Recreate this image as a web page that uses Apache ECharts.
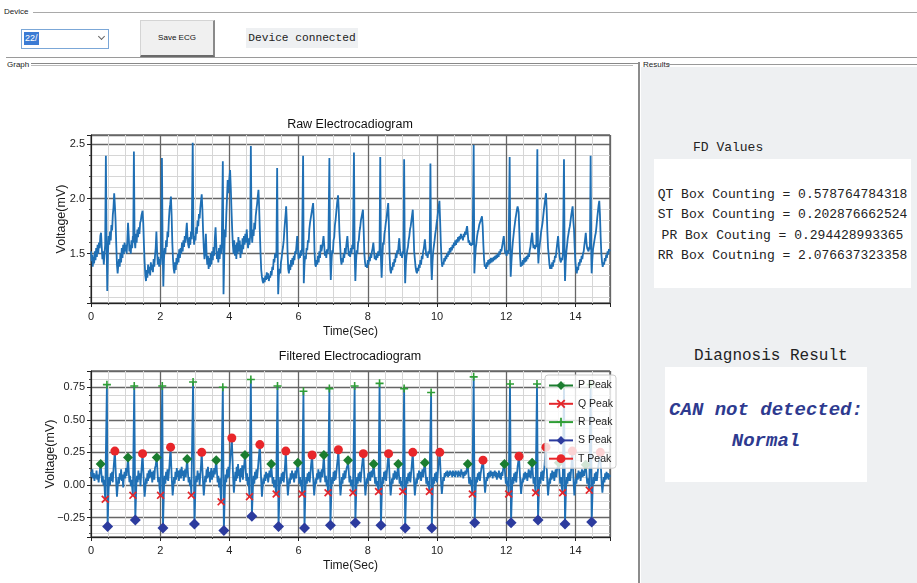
<!DOCTYPE html>
<html><head><meta charset="utf-8">
<script src="https://cdn.jsdelivr.net/npm/echarts@6/dist/echarts.min.js"></script>
<style>
html,body{margin:0;padding:0;width:917px;height:583px;overflow:hidden;background:#fff;font-family:'Liberation Sans',Arial,sans-serif;}
.abs{position:absolute;}
.lbl{position:absolute;font-size:8px;color:#222;font-family:'Liberation Sans Narrow','Liberation Sans',sans-serif;line-height:10px;}
.hl{position:absolute;height:1px;background:#a9a9a9;}
.mono{font-family:'Liberation Mono','DejaVu Sans Mono',monospace;color:#222;}
#results{position:absolute;left:641px;top:67px;width:276px;height:516px;background:#eef0f2;}
#chart{position:absolute;left:0;top:0;width:700px;height:583px;z-index:5;}
</style></head><body>
<div class="lbl" style="left:4px;top:7px">Device</div>
<div class="hl" style="left:33px;top:12px;width:884px"></div>
<div class="abs" style="left:21px;top:29px;width:86px;height:18px;border:1px solid #7ba7d7;background:#fff"></div>
<div class="abs" style="left:24px;top:32px;height:13px;background:#3b7bd4;color:#fff;font-size:9px;line-height:13px;padding:0 1px">22/</div>
<div class="abs" style="left:99px;top:34px;width:4px;height:4px;border-right:1px solid #666;border-bottom:1px solid #666;transform:rotate(45deg)"></div>
<div class="abs" style="left:140px;top:20px;width:72px;height:34px;background:#f0f0f0;border:1px solid #d4d4d4;border-right:2px solid #8a8a8a;border-bottom:2px solid #6a6a6a;font-size:8px;text-align:center;line-height:34px;font-family:'Liberation Sans Narrow','Liberation Sans',sans-serif;color:#111">Save ECG</div>
<div class="abs mono" style="left:246px;top:28px;width:112px;height:20px;background:#eef0f2;font-size:11.2px;line-height:20px;text-align:center">Device connected</div>
<div class="hl" style="left:6px;top:57px;width:911px;background:#9a9a9a"></div>
<div class="lbl" style="left:7px;top:60px">Graph</div>
<div class="abs" style="left:31px;top:63px;width:602px;height:1px;border-top:1px solid #888;border-bottom:1px solid #bbb"></div>

<div id="results"></div>
<div class="abs" style="left:638px;top:62px;width:2px;height:521px;background:#8c8c8c"></div>
<div class="abs" style="left:630px;top:63px;width:10px;height:1px;background:#8c8c8c"></div>
<div class="lbl" style="left:643px;top:60px">Results</div>
<div class="hl" style="left:668px;top:64px;width:249px;background:#999"></div>
<div class="abs mono" style="left:693px;top:139px;font-size:13px;line-height:18px">FD Values</div>
<div id="fdbox" class="abs mono" style="left:654px;top:159px;width:257px;height:129px;background:#fff;font-size:13px;line-height:20.3px;text-align:center;padding-top:26px;box-sizing:border-box;white-space:pre"></div>
<div class="abs mono" style="left:694px;top:346px;font-size:16px;line-height:20px">Diagnosis Result</div>
<div id="diag" class="abs mono" style="left:665px;top:367px;width:202px;height:115px;background:#fff;font-size:19px;line-height:31px;text-align:center;padding-top:28px;box-sizing:border-box;font-weight:bold;font-style:italic;color:#2e3a8f;white-space:pre"></div>

<div id="chart"></div>
<script>
const rawTitle = 'Raw Electrocadiogram';
const filteredTitle = 'Filtered Electrocadiogram';
const xName = 'Time(Sec)';
const yName = 'Voltage(mV)';
const legendNames = ['P Peak','Q Peak','R Peak','S Peak','T Peak'];
const fdLabels = ['QT Box Counting','ST Box Counting','PR Box Couting','RR Box Coutning'];
const fdValues = ['0.578764784318','0.202876662524','0.294428993365','2.076637323358'];
const diagnosisLines = ['CAN not detected:','Normal'];

const rawSignal = [
[0,1.52],[0.02,1.43],[0.04,1.49],[0.05,1.38],[0.07,1.47],[0.09,1.41],[0.11,1.52],[0.13,1.44],[0.15,1.55],[0.17,1.47],[0.19,1.58],[0.21,1.50],[0.23,1.60],[0.25,1.55],[0.27,1.66],[0.29,1.69],[0.31,1.56],[0.33,1.45],[0.35,1.52],[0.37,1.40],[0.39,1.50],[0.41,1.58],
[0.43,2.39],[0.45,1.62],[0.47,1.16],[0.49,1.50],[0.51,1.66],[0.53,1.58],[0.55,1.70],[0.57,1.62],[0.59,1.76],[0.61,1.71],[0.63,1.85],[0.65,1.92],[0.67,2.05],[0.69,1.94],[0.71,1.80],[0.73,1.58],[0.75,1.40],[0.77,1.32],[0.79,1.40],[0.81,1.45],[0.83,1.38],[0.85,1.50],[0.87,1.42],[0.89,1.55],[0.91,1.46],[0.93,1.58],[0.95,1.50],[0.97,1.60],[0.99,1.52],[1.01,1.58],[1.03,1.50],[1.05,1.62],[1.07,1.78],[1.09,1.66],[1.11,1.52],[1.13,1.58],[1.15,1.50],[1.17,1.62],[1.19,1.55],[1.21,1.66],[1.22,1.60],
[1.24,2.43],[1.26,1.62],[1.28,1.55],[1.30,1.68],[1.32,1.60],[1.34,1.72],[1.36,1.65],[1.38,1.74],[1.40,1.68],[1.42,1.78],[1.44,1.80],[1.46,1.85],[1.49,1.89],[1.51,1.78],[1.53,1.58],[1.55,1.42],[1.57,1.30],[1.59,1.25],[1.61,1.35],[1.63,1.28],[1.65,1.40],[1.67,1.32],[1.69,1.38],[1.71,1.30],[1.73,1.42],[1.75,1.35],[1.77,1.40],[1.79,1.33],[1.81,1.45],[1.83,1.38],[1.85,1.48],[1.87,1.55],[1.89,1.70],[1.91,1.52],[1.93,1.40],[1.95,1.47],[1.97,1.38],[1.99,1.45],[2.01,1.40],[2.03,1.50],
[2.05,2.37],[2.07,1.55],[2.09,1.20],[2.11,1.45],[2.13,1.55],[2.15,1.50],[2.17,1.62],[2.19,1.56],[2.21,1.70],[2.23,1.65],[2.25,1.80],[2.27,1.90],[2.29,1.95],[2.31,2.02],[2.33,1.85],[2.35,1.60],[2.37,1.45],[2.39,1.36],[2.41,1.32],[2.43,1.42],[2.45,1.35],[2.47,1.46],[2.49,1.40],[2.51,1.50],[2.53,1.42],[2.55,1.54],[2.57,1.46],[2.59,1.55],[2.61,1.50],[2.63,1.60],[2.65,1.52],[2.67,1.62],[2.69,1.56],[2.71,1.66],[2.73,1.60],[2.75,1.70],[2.77,1.78],[2.79,1.64],[2.81,1.58],[2.83,1.55],[2.85,1.65],[2.87,1.58],[2.89,1.70],[2.91,1.63],
[2.94,2.51],[2.96,1.70],[2.98,1.58],[3.00,1.66],[3.02,1.62],[3.04,1.74],[3.06,1.68],[3.08,1.80],[3.10,1.75],[3.12,1.86],[3.14,1.82],[3.16,1.92],[3.18,1.98],[3.20,2.04],[3.22,1.90],[3.24,1.70],[3.26,1.55],[3.28,1.45],[3.30,1.52],[3.32,1.68],[3.34,1.50],[3.36,1.40],[3.38,1.48],[3.40,1.36],[3.42,1.46],[3.44,1.38],[3.46,1.50],[3.48,1.40],[3.50,1.52],[3.52,1.44],[3.54,1.56],[3.56,1.48],[3.58,1.64],[3.60,1.74],[3.62,1.58],[3.64,1.45],[3.66,1.52],[3.68,1.42],[3.70,1.55],[3.72,1.45],[3.74,1.58],[3.76,1.50],[3.78,1.60],
[3.81,2.34],[3.83,1.13],[3.85,1.45],[3.87,1.72],[3.89,1.65],[3.91,1.85],[3.93,2.00],[3.95,2.17],[3.97,2.05],[3.99,2.15],[4.02,2.26],[4.04,2.10],[4.06,1.90],[4.08,1.72],[4.10,1.58],[4.12,1.50],[4.14,1.62],[4.16,1.48],[4.18,1.58],[4.20,1.45],[4.22,1.60],[4.24,1.50],[4.26,1.65],[4.28,1.52],[4.30,1.62],[4.32,1.46],[4.34,1.58],[4.36,1.50],[4.38,1.64],[4.40,1.54],[4.42,1.66],[4.44,1.58],[4.46,1.68],[4.48,1.60],[4.50,1.72],[4.52,1.62],[4.54,1.55],[4.56,1.64],[4.58,1.58],[4.60,1.66],
[4.62,2.48],[4.64,1.70],[4.66,1.60],[4.68,1.72],[4.70,1.66],[4.72,1.78],[4.74,1.72],[4.76,1.84],[4.78,1.90],[4.80,1.95],[4.82,2.02],[4.84,2.08],[4.86,1.92],[4.88,1.70],[4.90,1.50],[4.92,1.35],[4.94,1.29],[4.96,1.25],[4.98,1.23],[5.00,1.28],[5.02,1.24],[5.04,1.30],[5.06,1.26],[5.08,1.33],[5.10,1.27],[5.12,1.32],[5.14,1.25],[5.16,1.30],[5.18,1.28],[5.20,1.34],[5.22,1.30],[5.24,1.38],[5.26,1.35],[5.28,1.45],[5.30,1.42],[5.32,1.50],[5.34,1.46],[5.36,1.52],
[5.38,2.28],[5.40,1.40],[5.41,1.13],[5.43,1.30],[5.45,1.36],[5.47,1.32],[5.49,1.42],[5.51,1.46],[5.53,1.52],[5.55,1.56],[5.57,1.62],[5.59,1.72],[5.61,1.80],[5.63,1.88],[5.64,1.93],[5.66,1.78],[5.68,1.52],[5.70,1.36],[5.72,1.32],[5.74,1.40],[5.76,1.35],[5.78,1.44],[5.80,1.38],[5.82,1.46],[5.84,1.40],[5.86,1.48],[5.88,1.44],[5.90,1.52],[5.92,1.50],[5.94,1.58],[5.96,1.66],[5.98,1.55],[6.00,1.45],[6.02,1.50],[6.04,1.46],[6.06,1.53],[6.08,1.48],[6.10,1.55],
[6.13,2.39],[6.15,1.23],[6.17,1.40],[6.19,1.48],[6.21,1.45],[6.23,1.55],[6.25,1.53],[6.27,1.62],[6.29,1.60],[6.31,1.72],[6.33,1.78],[6.35,1.82],[6.37,1.86],[6.39,1.90],[6.42,1.96],[6.44,1.80],[6.46,1.52],[6.48,1.40],[6.50,1.38],[6.52,1.44],[6.54,1.40],[6.56,1.48],[6.58,1.42],[6.60,1.52],[6.62,1.46],[6.64,1.58],[6.66,1.52],[6.68,1.56],[6.70,1.60],[6.72,1.66],[6.74,1.58],[6.76,1.48],[6.78,1.52],[6.80,1.46],[6.82,1.54],[6.84,1.50],[6.86,1.56],
[6.89,2.37],[6.91,1.50],[6.93,1.26],[6.95,1.42],[6.97,1.53],[6.99,1.50],[7.01,1.62],[7.03,1.65],[7.05,1.76],[7.07,1.81],[7.09,1.88],[7.11,1.95],[7.14,2.03],[7.16,1.90],[7.18,1.70],[7.20,1.58],[7.22,1.45],[7.24,1.40],[7.26,1.46],[7.28,1.42],[7.30,1.50],[7.32,1.46],[7.34,1.55],[7.36,1.50],[7.38,1.58],[7.41,1.66],[7.43,1.56],[7.45,1.48],[7.47,1.52],[7.49,1.47],[7.51,1.55],[7.53,1.50],[7.55,1.58],[7.57,1.54],
[7.60,2.42],[7.62,1.50],[7.64,1.25],[7.66,1.42],[7.68,1.53],[7.70,1.50],[7.72,1.60],[7.74,1.62],[7.76,1.70],[7.78,1.74],[7.80,1.80],[7.83,1.85],[7.86,1.90],[7.88,1.72],[7.90,1.50],[7.92,1.42],[7.94,1.38],[7.96,1.40],[7.98,1.37],[8.00,1.44],[8.02,1.40],[8.04,1.47],[8.06,1.43],[8.08,1.50],[8.10,1.46],[8.12,1.52],[8.14,1.55],[8.16,1.60],[8.18,1.52],[8.20,1.45],[8.22,1.48],[8.24,1.44],[8.26,1.50],[8.28,1.46],[8.30,1.52],[8.32,1.48],[8.34,1.54],
[8.36,2.38],[8.38,1.45],[8.40,1.28],[8.42,1.45],[8.44,1.60],[8.46,1.58],[8.48,1.68],[8.50,1.72],[8.52,1.78],[8.54,1.82],[8.56,1.88],[8.59,1.96],[8.61,1.75],[8.63,1.48],[8.65,1.35],[8.67,1.32],[8.69,1.38],[8.71,1.35],[8.73,1.42],[8.75,1.38],[8.77,1.45],[8.79,1.42],[8.81,1.50],[8.83,1.46],[8.85,1.53],[8.87,1.50],[8.89,1.58],[8.91,1.64],[8.93,1.54],[8.95,1.48],[8.97,1.50],[8.99,1.46],[9.01,1.52],[9.03,1.50],
[9.05,2.36],[9.07,1.40],[9.08,1.23],[9.10,1.40],[9.12,1.48],[9.14,1.53],[9.16,1.56],[9.18,1.62],[9.20,1.66],[9.22,1.72],[9.24,1.75],[9.26,1.80],[9.28,1.85],[9.30,1.90],[9.32,1.72],[9.34,1.52],[9.36,1.45],[9.38,1.38],[9.40,1.34],[9.42,1.32],[9.44,1.37],[9.46,1.34],[9.48,1.40],[9.50,1.37],[9.52,1.44],[9.54,1.40],[9.56,1.48],[9.58,1.45],[9.60,1.52],[9.62,1.55],[9.65,1.63],[9.67,1.55],[9.69,1.48],[9.71,1.50],[9.73,1.46],[9.75,1.52],[9.77,1.50],[9.79,1.55],
[9.81,2.32],[9.83,1.42],[9.85,1.26],[9.87,1.42],[9.89,1.52],[9.91,1.57],[9.93,1.62],[9.95,1.68],[9.97,1.72],[9.99,1.78],[10.01,1.82],[10.03,1.88],[10.05,1.93],[10.07,1.98],[10.09,1.80],[10.11,1.60],[10.13,1.45],[10.15,1.38],[10.17,1.42],[10.19,1.40],[10.21,1.46],[10.23,1.43],[10.25,1.48],[10.27,1.45],[10.29,1.50],[10.31,1.47],[10.33,1.52],[10.35,1.49],[10.37,1.55],[10.39,1.51],[10.41,1.56],[10.43,1.53],[10.45,1.58],[10.47,1.55],[10.49,1.60],[10.51,1.57],[10.53,1.62],[10.55,1.58],[10.57,1.63],[10.59,1.60],[10.61,1.65],[10.63,1.61],[10.65,1.66],[10.67,1.63],[10.69,1.68],[10.71,1.64],[10.73,1.66],[10.75,1.62],[10.77,1.68],[10.79,1.65],[10.81,1.70],[10.83,1.67],[10.85,1.72],[10.87,1.75],[10.89,1.68],[10.91,1.60],[10.93,1.62],[10.95,1.58],[10.97,1.60],[10.99,1.57],[11.01,1.60],[11.03,1.58],
[11.06,2.49],[11.08,1.32],[11.10,1.45],[11.12,1.55],[11.14,1.60],[11.16,1.66],[11.18,1.70],[11.20,1.72],[11.22,1.76],[11.24,1.78],[11.26,1.80],[11.28,1.82],[11.30,1.84],[11.32,1.75],[11.34,1.58],[11.36,1.45],[11.38,1.38],[11.40,1.40],[11.42,1.36],[11.44,1.42],[11.46,1.38],[11.48,1.44],[11.50,1.40],[11.52,1.45],[11.54,1.41],[11.56,1.46],[11.58,1.42],[11.60,1.46],[11.62,1.43],[11.64,1.47],[11.66,1.44],[11.68,1.48],[11.70,1.45],[11.72,1.49],[11.74,1.46],[11.76,1.50],[11.78,1.47],[11.80,1.52],[11.82,1.49],[11.84,1.54],[11.86,1.52],[11.88,1.56],[11.90,1.60],[11.93,1.66],[11.95,1.58],[11.97,1.50],[11.99,1.52],[12.01,1.48],[12.03,1.53],[12.05,1.50],[12.07,1.54],
[12.10,2.38],[12.12,1.45],[12.13,1.29],[12.15,1.42],[12.17,1.52],[12.19,1.60],[12.21,1.66],[12.23,1.72],[12.25,1.77],[12.27,1.82],[12.29,1.86],[12.31,1.90],[12.33,1.93],[12.36,1.88],[12.38,1.70],[12.40,1.48],[12.42,1.38],[12.44,1.42],[12.46,1.39],[12.48,1.44],[12.50,1.40],[12.52,1.46],[12.54,1.42],[12.56,1.47],[12.58,1.43],[12.60,1.48],[12.62,1.45],[12.64,1.50],[12.66,1.47],[12.68,1.53],[12.70,1.56],[12.72,1.62],[12.75,1.69],[12.77,1.60],[12.79,1.55],[12.81,1.58],[12.83,1.54],[12.85,1.58],[12.87,1.56],
[12.90,2.45],[12.92,1.50],[12.93,1.41],[12.95,1.52],[12.97,1.58],[12.99,1.64],[13.01,1.70],[13.03,1.74],[13.05,1.78],[13.07,1.84],[13.09,1.90],[13.11,1.95],[13.13,2.00],[13.15,2.05],[13.17,1.90],[13.19,1.70],[13.21,1.55],[13.23,1.48],[13.25,1.40],[13.27,1.36],[13.29,1.40],[13.31,1.36],[13.33,1.42],[13.35,1.38],[13.37,1.44],[13.39,1.42],[13.41,1.48],[13.43,1.46],[13.45,1.52],[13.47,1.58],[13.50,1.66],[13.52,1.56],[13.54,1.48],[13.56,1.44],[13.58,1.42],[13.60,1.46],[13.62,1.44],[13.64,1.50],
[13.67,2.36],[13.69,1.40],[13.70,1.25],[13.72,1.42],[13.74,1.52],[13.76,1.58],[13.78,1.64],[13.80,1.68],[13.82,1.72],[13.84,1.75],[13.86,1.80],[13.88,1.85],[13.90,1.89],[13.92,1.93],[13.94,1.80],[13.96,1.72],[13.98,1.55],[14.00,1.42],[14.02,1.35],[14.04,1.32],[14.06,1.38],[14.08,1.35],[14.10,1.42],[14.12,1.39],[14.14,1.45],[14.16,1.42],[14.18,1.48],[14.20,1.45],[14.22,1.50],[14.24,1.52],[14.26,1.58],[14.28,1.63],[14.30,1.69],[14.32,1.60],[14.34,1.55],[14.36,1.55],[14.38,1.52],[14.40,1.56],[14.42,1.54],
[14.44,2.39],[14.46,1.45],[14.47,1.32],[14.49,1.45],[14.51,1.54],[14.53,1.58],[14.55,1.62],[14.57,1.66],[14.59,1.69],[14.61,1.75],[14.63,1.82],[14.65,1.88],[14.67,1.94],[14.69,1.98],[14.71,1.85],[14.73,1.65],[14.75,1.50],[14.77,1.42],[14.79,1.38],[14.81,1.42],[14.83,1.40],[14.85,1.46],[14.87,1.43],[14.89,1.49],[14.91,1.46],[14.93,1.52],[14.95,1.49],[14.97,1.54],[15.00,1.52]
];

const filteredSignal = [
[0.00,0.10],[0.02,0.06],[0.04,0.12],[0.06,0.05],[0.08,0.09],[0.10,0.03],[0.12,0.08],[0.14,0.05],[0.16,0.11],[0.18,0.04],[0.20,0.08],[0.22,0.02],[0.24,0.07],[0.26,0.12],[0.28,0.16],[0.30,0.09],[0.32,0.02],[0.34,0.07],[0.36,0.00],[0.38,0.04],[0.41,-0.11],[0.46,0.77],[0.48,-0.32],[0.51,-0.03],[0.53,0.06],[0.55,0.00],[0.57,0.09],[0.59,0.03],[0.61,0.10],[0.63,0.02],[0.65,0.12],[0.67,0.19],[0.69,0.26],[0.71,0.13],[0.73,0.01],[0.75,-0.09],[0.77,-0.02],[0.79,0.06],[0.81,0.01],[0.83,0.09],[0.85,0.04],[0.87,0.12],[0.89,0.03],[0.91,0.08],[0.93,-0.02],[0.95,0.06],[0.97,0.10],[0.99,0.05],[1.01,0.13],[1.03,0.07],[1.05,0.14],[1.07,0.21],[1.09,0.11],[1.11,0.02],[1.13,0.07],[1.15,-0.01],[1.17,0.04],[1.21,-0.08],[1.25,0.76],[1.28,-0.27],[1.31,0.00],[1.33,0.07],[1.35,0.02],[1.37,0.11],[1.39,0.04],[1.41,0.09],[1.43,-0.01],[1.45,0.08],[1.47,0.16],[1.49,0.24],[1.51,0.12],[1.53,0.00],[1.55,-0.09],[1.57,-0.03],[1.59,0.05],[1.61,0.01],[1.63,0.09],[1.65,0.03],[1.67,0.11],[1.69,0.05],[1.71,0.12],[1.73,0.06],[1.75,0.10],[1.77,0.02],[1.79,0.07],[1.81,0.11],[1.83,0.04],[1.85,0.13],[1.87,0.15],[1.90,0.21],[1.92,0.11],[1.94,0.02],[1.96,0.06],[1.98,-0.02],[2.01,-0.08],[2.06,0.76],[2.08,-0.33],[2.11,-0.02],[2.13,0.07],[2.15,0.01],[2.17,0.10],[2.19,0.04],[2.21,0.12],[2.23,0.03],[2.25,0.09],[2.27,0.16],[2.30,0.29],[2.32,0.14],[2.34,0.02],[2.36,-0.08],[2.38,-0.02],[2.40,0.06],[2.42,0.01],[2.44,0.10],[2.46,0.04],[2.48,0.13],[2.50,0.06],[2.52,0.11],[2.54,0.03],[2.56,0.08],[2.58,0.12],[2.60,0.05],[2.62,0.14],[2.64,0.07],[2.66,0.11],[2.68,0.03],[2.70,0.08],[2.72,0.12],[2.74,0.06],[2.76,0.14],[2.78,0.20],[2.80,0.10],[2.82,0.02],[2.84,0.06],[2.86,-0.01],[2.88,0.04],[2.90,-0.08],[2.95,0.79],[2.99,-0.30],[3.02,-0.01],[3.04,0.07],[3.06,0.02],[3.08,0.11],[3.10,0.04],[3.12,0.09],[3.14,0.00],[3.16,0.08],[3.18,0.15],[3.20,0.25],[3.22,0.12],[3.24,0.01],[3.26,-0.08],[3.28,-0.01],[3.30,0.07],[3.32,0.02],[3.34,0.12],[3.36,0.05],[3.38,0.14],[3.40,0.06],[3.42,0.10],[3.44,0.02],[3.46,0.09],[3.48,0.13],[3.50,0.04],[3.52,0.11],[3.54,0.06],[3.56,0.13],[3.58,0.08],[3.60,0.14],[3.62,0.19],[3.64,0.10],[3.66,0.02],[3.68,0.07],[3.70,-0.02],[3.72,0.05],[3.76,-0.13],[3.81,0.75],[3.84,-0.35],[3.87,-0.03],[3.89,0.08],[3.91,0.02],[3.93,0.12],[3.95,0.05],[3.97,0.14],[3.99,0.06],[4.01,0.15],[4.03,0.22],[4.05,0.28],[4.07,0.36],[4.09,0.20],[4.11,0.04],[4.13,-0.06],[4.15,0.02],[4.17,0.10],[4.19,0.03],[4.21,0.14],[4.23,0.05],[4.25,0.16],[4.27,0.07],[4.29,0.12],[4.31,0.02],[4.33,0.13],[4.35,0.06],[4.37,0.15],[4.39,0.04],[4.41,0.12],[4.43,0.16],[4.45,0.23],[4.47,0.12],[4.49,0.03],[4.51,0.09],[4.53,0.00],[4.55,0.06],[4.58,-0.09],[4.62,0.81],[4.65,-0.24],[4.68,-0.02],[4.70,0.07],[4.72,0.01],[4.74,0.10],[4.76,0.04],[4.78,0.12],[4.80,0.05],[4.82,0.11],[4.84,0.18],[4.86,0.24],[4.88,0.31],[4.90,0.16],[4.92,0.02],[4.94,-0.09],[4.96,-0.02],[4.98,0.05],[5.00,0.01],[5.02,0.08],[5.04,0.03],[5.06,0.10],[5.08,0.05],[5.10,0.09],[5.12,0.02],[5.14,0.07],[5.16,0.11],[5.18,0.06],[5.21,0.16],[5.23,0.08],[5.25,0.01],[5.27,0.06],[5.29,-0.02],[5.31,0.04],[5.35,-0.07],[5.39,0.76],[5.42,-0.32],[5.45,-0.02],[5.47,0.06],[5.49,0.01],[5.51,0.09],[5.53,0.03],[5.55,0.10],[5.57,0.02],[5.59,0.08],[5.61,0.16],[5.63,0.26],[5.65,0.12],[5.67,0.01],[5.69,-0.08],[5.71,-0.02],[5.73,0.05],[5.75,0.01],[5.77,0.09],[5.79,0.04],[5.81,0.11],[5.83,0.05],[5.85,0.09],[5.87,0.02],[5.89,0.07],[5.91,0.11],[5.93,0.05],[5.95,0.12],[5.98,0.17],[6.00,0.09],[6.02,0.01],[6.04,0.06],[6.06,-0.01],[6.08,0.04],[6.10,-0.07],[6.14,0.72],[6.17,-0.33],[6.20,-0.02],[6.22,0.06],[6.24,0.01],[6.26,0.09],[6.28,0.03],[6.30,0.10],[6.32,0.02],[6.34,0.08],[6.36,0.15],[6.39,0.23],[6.41,0.11],[6.43,0.01],[6.45,-0.08],[6.47,-0.02],[6.49,0.05],[6.51,0.01],[6.53,0.09],[6.55,0.04],[6.57,0.12],[6.59,0.05],[6.61,0.10],[6.63,0.02],[6.65,0.08],[6.67,0.12],[6.69,0.06],[6.71,0.15],[6.73,0.23],[6.75,0.11],[6.77,0.02],[6.79,0.07],[6.81,-0.01],[6.83,0.04],[6.85,-0.06],[6.89,0.74],[6.92,-0.31],[6.95,-0.02],[6.97,0.06],[6.99,0.01],[7.01,0.10],[7.03,0.03],[7.05,0.11],[7.07,0.04],[7.09,0.09],[7.11,0.15],[7.13,0.20],[7.15,0.27],[7.17,0.13],[7.19,0.01],[7.21,-0.08],[7.23,-0.02],[7.25,0.06],[7.27,0.01],[7.29,0.09],[7.31,0.04],[7.33,0.11],[7.35,0.05],[7.37,0.10],[7.39,0.13],[7.41,0.15],[7.43,0.19],[7.45,0.10],[7.47,0.02],[7.49,0.07],[7.51,-0.01],[7.53,0.04],[7.57,-0.06],[7.62,0.76],[7.64,-0.29],[7.67,-0.02],[7.69,0.06],[7.71,0.01],[7.73,0.09],[7.75,0.03],[7.77,0.10],[7.79,0.02],[7.81,0.08],[7.83,0.14],[7.85,0.19],[7.87,0.24],[7.89,0.12],[7.91,0.01],[7.93,-0.08],[7.95,-0.02],[7.97,0.05],[7.99,0.01],[8.01,0.09],[8.03,0.04],[8.05,0.10],[8.07,0.03],[8.09,0.08],[8.11,0.11],[8.13,0.06],[8.15,0.12],[8.17,0.16],[8.19,0.09],[8.21,0.01],[8.23,0.06],[8.25,-0.01],[8.27,0.03],[8.31,-0.05],[8.34,0.78],[8.38,-0.31],[8.41,-0.02],[8.43,0.06],[8.45,0.01],[8.47,0.10],[8.49,0.04],[8.51,0.11],[8.53,0.03],[8.55,0.09],[8.57,0.16],[8.60,0.24],[8.62,0.12],[8.64,0.01],[8.66,-0.08],[8.68,-0.02],[8.70,0.05],[8.72,0.01],[8.74,0.09],[8.76,0.04],[8.78,0.11],[8.80,0.05],[8.82,0.10],[8.84,0.04],[8.86,0.11],[8.88,0.16],[8.90,0.08],[8.92,0.01],[8.94,0.06],[8.96,-0.01],[8.98,0.03],[9.01,-0.05],[9.05,0.74],[9.08,-0.33],[9.11,-0.02],[9.13,0.06],[9.15,0.01],[9.17,0.09],[9.19,0.03],[9.21,0.10],[9.23,0.02],[9.25,0.08],[9.27,0.15],[9.30,0.25],[9.32,0.12],[9.34,0.01],[9.36,-0.08],[9.38,-0.02],[9.40,0.05],[9.42,0.01],[9.44,0.09],[9.46,0.04],[9.48,0.11],[9.50,0.05],[9.52,0.10],[9.54,0.03],[9.56,0.08],[9.58,0.12],[9.60,0.06],[9.62,0.12],[9.65,0.17],[9.67,0.09],[9.69,0.01],[9.71,0.06],[9.73,-0.01],[9.75,0.03],[9.78,-0.05],[9.83,0.71],[9.85,-0.33],[9.88,-0.02],[9.90,0.06],[9.92,0.01],[9.94,0.09],[9.96,0.03],[9.98,0.10],[10.00,0.02],[10.02,0.08],[10.04,0.15],[10.06,0.20],[10.08,0.25],[10.10,0.12],[10.12,0.01],[10.14,-0.07],[10.16,-0.01],[10.18,0.06],[10.20,0.03],[10.22,0.09],[10.24,0.06],[10.26,0.10],[10.28,0.07],[10.30,0.11],[10.32,0.06],[10.34,0.10],[10.36,0.07],[10.38,0.11],[10.40,0.08],[10.42,0.10],[10.44,0.06],[10.46,0.11],[10.48,0.07],[10.50,0.10],[10.52,0.06],[10.54,0.11],[10.56,0.08],[10.58,0.10],[10.60,0.06],[10.62,0.11],[10.64,0.07],[10.66,0.10],[10.68,0.06],[10.70,0.12],[10.72,0.08],[10.74,0.10],[10.76,0.05],[10.78,0.10],[10.80,0.07],[10.82,0.11],[10.84,0.08],[10.86,0.12],[10.89,0.16],[10.91,0.08],[10.93,0.01],[10.95,0.06],[10.97,0.00],[10.99,0.04],[11.02,-0.07],[11.06,0.83],[11.09,-0.29],[11.12,-0.02],[11.14,0.06],[11.16,0.02],[11.18,0.09],[11.20,0.04],[11.22,0.10],[11.24,0.03],[11.26,0.08],[11.28,0.12],[11.31,0.16],[11.33,0.19],[11.35,0.10],[11.37,0.01],[11.39,-0.06],[11.41,0.00],[11.43,0.06],[11.45,0.03],[11.47,0.09],[11.49,0.05],[11.51,0.10],[11.53,0.06],[11.55,0.11],[11.57,0.07],[11.59,0.10],[11.61,0.05],[11.63,0.10],[11.65,0.07],[11.67,0.11],[11.69,0.06],[11.71,0.10],[11.73,0.04],[11.75,0.09],[11.77,0.06],[11.79,0.11],[11.81,0.05],[11.83,0.09],[11.85,0.04],[11.87,0.10],[11.89,0.07],[11.91,0.12],[11.93,0.14],[11.95,0.16],[11.97,0.08],[11.99,0.01],[12.01,0.06],[12.03,-0.01],[12.05,0.03],[12.07,-0.07],[12.11,0.775],[12.14,-0.29],[12.17,-0.02],[12.19,0.06],[12.21,0.01],[12.23,0.09],[12.25,0.03],[12.27,0.10],[12.29,0.02],[12.31,0.08],[12.33,0.14],[12.35,0.18],[12.37,0.22],[12.39,0.11],[12.41,0.01],[12.43,-0.07],[12.45,-0.01],[12.47,0.05],[12.49,0.02],[12.51,0.09],[12.53,0.04],[12.55,0.10],[12.57,0.05],[12.59,0.09],[12.61,0.03],[12.63,0.08],[12.65,0.12],[12.67,0.06],[12.69,0.11],[12.71,0.05],[12.73,0.12],[12.75,0.17],[12.77,0.09],[12.79,0.01],[12.81,0.06],[12.83,-0.01],[12.85,-0.06],[12.89,0.775],[12.92,-0.27],[12.95,-0.02],[12.97,0.06],[12.99,0.01],[13.01,0.10],[13.03,0.04],[13.05,0.11],[13.07,0.03],[13.09,0.09],[13.11,0.16],[13.13,0.22],[13.15,0.29],[13.17,0.14],[13.19,0.01],[13.21,-0.08],[13.23,-0.02],[13.25,0.05],[13.27,0.01],[13.29,0.09],[13.31,0.04],[13.33,0.11],[13.35,0.05],[13.37,0.10],[13.39,0.03],[13.41,0.08],[13.43,0.12],[13.45,0.06],[13.47,0.12],[13.49,0.14],[13.52,0.17],[13.54,0.09],[13.56,0.01],[13.58,0.06],[13.60,-0.01],[13.63,-0.06],[13.67,0.76],[13.70,-0.30],[13.73,-0.02],[13.75,0.06],[13.77,0.01],[13.79,0.09],[13.81,0.03],[13.83,0.10],[13.85,0.03],[13.87,0.09],[13.89,0.17],[13.91,0.26],[13.93,0.13],[13.95,0.01],[13.97,-0.08],[13.99,-0.02],[14.01,0.05],[14.03,0.01],[14.05,0.09],[14.07,0.04],[14.09,0.11],[14.11,0.05],[14.13,0.10],[14.15,0.03],[14.17,0.08],[14.19,0.12],[14.21,0.06],[14.23,0.11],[14.25,0.07],[14.27,0.12],[14.30,0.155],[14.32,0.08],[14.34,0.01],[14.36,0.05],[14.38,0.00],[14.40,-0.04],[14.44,0.77],[14.47,-0.285],[14.50,-0.02],[14.52,0.06],[14.54,0.01],[14.56,0.09],[14.58,0.03],[14.60,0.10],[14.62,0.03],[14.64,0.08],[14.66,0.14],[14.69,0.20],[14.72,0.25],[14.74,0.12],[14.76,0.01],[14.78,-0.06],[14.80,0.00],[14.82,0.06],[14.84,0.02],[14.86,0.09],[14.88,0.04],[14.90,0.10],[14.92,0.05],[14.94,0.09],[14.96,0.04],[14.98,0.08],[15.00,0.06]
];

const pPeaks = [[0.28,0.16],[1.07,0.21],[1.90,0.21],[2.78,0.20],[3.62,0.19],[4.45,0.23],[5.21,0.16],[5.98,0.17],[6.73,0.23],[7.43,0.19],[8.17,0.16],[8.88,0.16],[9.65,0.17],[10.89,0.16],[11.95,0.16],[12.75,0.17],[13.52,0.17],[14.30,0.155]];
const qPeaks = [[0.41,-0.11],[1.21,-0.08],[2.01,-0.08],[2.90,-0.08],[3.76,-0.13],[4.58,-0.09],[5.35,-0.07],[6.10,-0.07],[6.85,-0.06],[7.57,-0.06],[8.31,-0.05],[9.01,-0.05],[9.78,-0.05],[11.02,-0.07],[12.07,-0.07],[12.85,-0.06],[13.63,-0.06],[14.40,-0.04]];
const rPeaks = [[0.46,0.77],[1.25,0.76],[2.06,0.76],[2.95,0.79],[3.81,0.75],[4.62,0.81],[5.39,0.76],[6.14,0.72],[6.89,0.74],[7.62,0.76],[8.34,0.78],[9.05,0.74],[9.83,0.71],[11.06,0.83],[12.11,0.775],[12.89,0.775],[13.67,0.76],[14.44,0.77]];
const sPeaks = [[0.48,-0.32],[1.28,-0.27],[2.08,-0.33],[2.99,-0.30],[3.84,-0.35],[4.65,-0.24],[5.42,-0.32],[6.17,-0.33],[6.92,-0.31],[7.64,-0.29],[8.38,-0.31],[9.08,-0.33],[9.85,-0.33],[11.09,-0.29],[12.14,-0.29],[12.92,-0.27],[13.70,-0.30],[14.47,-0.285]];
const tPeaks = [[0.69,0.26],[1.49,0.24],[2.30,0.29],[3.20,0.25],[4.07,0.36],[4.88,0.31],[5.63,0.26],[6.39,0.23],[7.15,0.27],[7.87,0.24],[8.60,0.24],[9.30,0.25],[10.08,0.25],[11.33,0.19],[12.37,0.22],[13.15,0.29],[13.91,0.26],[14.72,0.25]];

document.getElementById('fdbox').textContent = fdLabels.map((l,i)=>l+' = '+fdValues[i]).join('\n');
document.getElementById('diag').textContent = diagnosisLines.join('\n');

const F = "'Liberation Sans',Arial,sans-serif";
const LINE = '#1f6fb4';
const xPath = 'path://M1.5,0L5,3.5L8.5,0L10,1.5L6.5,5L10,8.5L8.5,10L5,6.5L1.5,10L0,8.5L3.5,5L0,1.5Z';
const plusPath = 'path://M4,0H6V4H10V6H6V10H4V6H0V4H4Z';

function xAx(gi){
  return {type:'value', gridIndex:gi, min:0, max:15, interval:2,
    name:xName, nameLocation:'middle', nameGap:23, nameMoveOverlap:false,
    nameTextStyle:{fontFamily:F, fontSize:12, color:'#1a1a1a'},
    axisLine:{show:true, onZero:false, lineStyle:{color:'#222'}},
    axisTick:{show:true, length:4, lineStyle:{color:'#222'}},
    minorTick:{show:true, splitNumber:4, length:2, lineStyle:{color:'#444'}},
    axisLabel:{fontFamily:F, fontSize:11, color:'#222', margin:8, showMaxLabel:false, formatter:v=>String(v)},
    splitLine:{show:true, lineStyle:{color:'#666', width:1.3}},
    minorSplitLine:{show:true, lineStyle:{color:'#d6d6d6', width:1}}};
}
function yAx(gi, mn, mx, step, minorN, dec, gap){
  return {type:'value', gridIndex:gi, min:mn, max:mx, minInterval:step, maxInterval:step,
    name:yName, nameLocation:'middle', nameGap:gap, nameMoveOverlap:false,
    nameTextStyle:{fontFamily:F, fontSize:12.5, color:'#1a1a1a'},
    axisLine:{show:true, lineStyle:{color:'#222'}},
    axisTick:{show:true, length:4, lineStyle:{color:'#222'}},
    minorTick:{show:true, splitNumber:minorN, length:2, lineStyle:{color:'#444'}},
    axisLabel:{fontFamily:F, fontSize:11, color:'#222', margin:6, showMinLabel:false, showMaxLabel:false,
      formatter:v=>v.toFixed(dec).replace('-','\u2212')},
    splitLine:{show:true, lineStyle:{color:'#666', width:1.3}},
    minorSplitLine:{show:true, lineStyle:{color:'#d6d6d6', width:1}}};
}
function peak(name, data, symbol, size, color){
  return {name, type:'line', xAxisIndex:1, yAxisIndex:1, data, symbol, symbolSize:size, showSymbol:true,
    itemStyle:{color}, lineStyle:{color, opacity:0, width:2}, z:3, silent:true, animation:false};
}

const chart = echarts.init(document.getElementById('chart'));
chart.setOption({
  animation:false,
  backgroundColor:'transparent',
  title:[
    {text:rawTitle, left:'center', top:118, padding:0, textStyle:{fontFamily:F, fontSize:12.5, fontWeight:'normal', color:'#111'}},
    {text:filteredTitle, left:'center', top:350, padding:0, textStyle:{fontFamily:F, fontSize:12.5, fontWeight:'normal', color:'#111'}}
  ],
  grid:[
    {left:91, top:135, width:519, height:168, show:true, borderColor:'#222', borderWidth:1, backgroundColor:'#fff'},
    {left:91, top:371, width:519, height:166, show:true, borderColor:'#222', borderWidth:1, backgroundColor:'#fff'}
  ],
  xAxis:[xAx(0), xAx(1)],
  yAxis:[yAx(0,1.05,2.58,0.5,5,1,23), yAx(1,-0.40,0.875,0.25,4,2,34)],
  legend:{data:legendNames, orient:'vertical', left:545, top:375, itemWidth:24, itemHeight:11, itemGap:7.3,
    backgroundColor:'rgba(255,255,255,0.8)', borderColor:'#cccccc', borderWidth:1, borderRadius:3, padding:[5,3,4,3], z:10,
    textStyle:{fontFamily:F, fontSize:10.5, color:'#222'}, lineStyle:{opacity:1, width:2}, selectedMode:false},
  series:[
    {name:'raw', type:'line', xAxisIndex:0, yAxisIndex:0, data:rawSignal, showSymbol:false, symbol:'none', lineStyle:{color:LINE, width:1.8}, silent:true},
    {name:'filtered', type:'line', xAxisIndex:1, yAxisIndex:1, data:filteredSignal, showSymbol:false, symbol:'none', lineStyle:{color:LINE, width:1.8}, silent:true},
    peak(legendNames[0], pPeaks, 'diamond', 10, '#1b7d2f'),
    peak(legendNames[1], qPeaks, xPath, 8, '#e4262b'),
    peak(legendNames[2], rPeaks, plusPath, 8, '#2f9e36'),
    peak(legendNames[3], sPeaks, 'diamond', 11, '#2c3b9e'),
    peak(legendNames[4], tPeaks, 'circle', 9, '#e8262a')
  ]
});
</script>
</body></html>
